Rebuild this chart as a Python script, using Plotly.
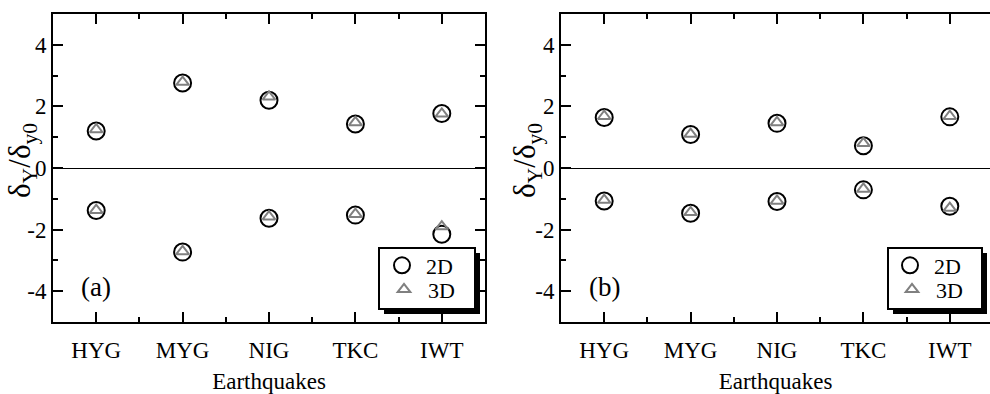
import plotly.graph_objects as go

# Earthquake records along the x axis
CATEGORIES = ["HYG", "MYG", "NIG", "TKC", "IWT"]

# Panel (a): peak normalized displacement, positive / negative excursions
A_2D_POS = [1.20, 2.76, 2.20, 1.43, 1.77]
A_2D_NEG = [-1.38, -2.73, -1.63, -1.53, -2.15]
A_3D_POS = [1.25, 2.79, 2.31, 1.48, 1.76]
A_3D_NEG = [-1.37, -2.71, -1.58, -1.50, -1.90]

# Panel (b)
B_2D_POS = [1.64, 1.09, 1.45, 0.72, 1.66]
B_2D_NEG = [-1.07, -1.47, -1.09, -0.71, -1.24]
B_3D_POS = [1.68, 1.10, 1.48, 0.80, 1.68]
B_3D_NEG = [-1.04, -1.44, -1.07, -0.68, -1.30]

Y_TICK_VALUES = [-4, -2, 0, 2, 4]
Y_TICK_LABELS = ["-4", "-2", "0", "2", "4"]
Y_MINOR_VALUES = [-3, -1, 1, 3]

W, H = 990, 394
FONT = "Liberation Serif"


def px_x(v):
    return v / W


def px_y(v):
    return 1 - v / H


xpos = list(range(len(CATEGORIES)))
x_minor = [i + 0.5 for i in xpos[:-1]]

fig = go.Figure()


def add_panel(pos2d, neg2d, pos3d, neg3d, xa, ya, leg2d, leg3d):
    fig.add_trace(go.Scatter(
        x=xpos + xpos, y=pos2d + neg2d, mode="markers", name="2D",
        xaxis=xa, yaxis=ya, legend=leg2d,
        marker=dict(symbol="circle-open", size=17, color="black",
                    line=dict(width=2, color="black")),
    ))
    fig.add_trace(go.Scatter(
        x=xpos + xpos, y=pos3d + neg3d, mode="markers", name="3D",
        xaxis=xa, yaxis=ya, legend=leg3d,
        marker=dict(symbol="triangle-up-open", size=11, color="#808080",
                    line=dict(width=2, color="#808080")),
    ))


add_panel(A_2D_POS, A_2D_NEG, A_3D_POS, A_3D_NEG, "x", "y", "legend", "legend2")
add_panel(B_2D_POS, B_2D_NEG, B_3D_POS, B_3D_NEG, "x2", "y2", "legend3", "legend4")

tickfont = dict(family=FONT, size=23, color="black")
minor_y = dict(tickvals=Y_MINOR_VALUES, ticks="inside", ticklen=5,
               tickwidth=2, tickcolor="black")
minor_x = dict(tickvals=x_minor, ticks="inside", ticklen=5,
               tickwidth=2, tickcolor="black")

common_x = dict(
    tickvals=xpos, ticktext=CATEGORIES, ticks="inside", ticklen=10,
    tickwidth=2, tickcolor="black", showline=True, linewidth=2,
    linecolor="black", showgrid=False, zeroline=False, tickfont=tickfont,
    minor=minor_x, ticklabelstandoff=6,
    title=dict(text="Earthquakes", font=dict(family=FONT, size=23, color="black"),
               standoff=12),
)
common_y = dict(
    range=[-5, 5], tickvals=Y_TICK_VALUES, ticktext=Y_TICK_LABELS,
    ticks="inside", ticklen=10, tickwidth=2, tickcolor="black",
    showline=True, linewidth=2, linecolor="black", showgrid=False,
    zeroline=True, zerolinecolor="black", zerolinewidth=1,
    tickfont=tickfont, minor=minor_y, ticklabelstandoff=0,
)

# panel (a) spans px 53..485, panel (b) starts at 561 and runs past the right edge
left_a, right_a = 53, 485
left_b = 561
width_px = right_a - left_a
top, bottom = 14, 322
b_end = -0.5 + len(CATEGORIES) * (W - left_b) / width_px

legend_font = dict(family=FONT, size=22, color="black")


def legend_at(x_px, y_px):
    return dict(x=px_x(x_px), y=px_y(y_px), xanchor="left", yanchor="middle",
                bgcolor="rgba(0,0,0,0)", borderwidth=0, font=legend_font,
                tracegroupgap=0, itemwidth=38)


fig.update_layout(
    width=W, height=H, margin=dict(l=0, r=0, t=0, b=0),
    paper_bgcolor="white", plot_bgcolor="white",
    font=dict(family=FONT, color="black"),
    xaxis=dict(domain=[px_x(left_a), px_x(right_a)], range=[-0.5, len(CATEGORIES) - 0.5],
               anchor="y", mirror="ticks", **common_x),
    yaxis=dict(domain=[px_y(bottom), px_y(top)], anchor="x", mirror="ticks", **common_y),
    xaxis2=dict(domain=[px_x(left_b), 1.0], range=[-0.5, b_end],
                anchor="y2", mirror="ticks", **common_x),
    yaxis2=dict(domain=[px_y(bottom), px_y(top)], anchor="x2", mirror=False, **common_y),
    yaxis3=dict(overlaying="y2", side="right", anchor="x2", range=[-5, 5],
                tickvals=Y_TICK_VALUES, ticks="inside", ticklen=10, tickwidth=2,
                tickcolor="black", showline=False, showgrid=False, zeroline=False,
                showticklabels=False, minor=minor_y),
    legend=legend_at(378, 265.5),
    legend2=legend_at(380, 289.5),
    legend3=legend_at(886, 265.5),
    legend4=legend_at(888, 289.5),
    showlegend=True,
)

# legend boxes with drop shadows
for x0, x1 in [(379, 475), (888, 982)]:
    y0, y1 = 248, 309
    fig.add_shape(type="rect", xref="paper", yref="paper",
                  x0=px_x(x0 + 5), x1=px_x(x1 + 5), y0=px_y(y1 + 5), y1=px_y(y0 + 5),
                  fillcolor="black", line=dict(width=0), layer="above")
    fig.add_shape(type="rect", xref="paper", yref="paper",
                  x0=px_x(x0), x1=px_x(x1), y0=px_y(y1), y1=px_y(y0),
                  fillcolor="white", line=dict(width=2, color="black"), layer="above")

# panel labels and y-axis titles
for label, xa, ya in [("(a)", "x", "y"), ("(b)", "x2", "y2")]:
    fig.add_annotation(text=label, x=0, y=-3.85, xref=xa, yref=ya, showarrow=False,
                       font=dict(family=FONT, size=27, color="black"))

for xc in [22, 527]:
    fig.add_annotation(text="δ<sub>Y</sub>/δ<sub>y0</sub>", x=px_x(xc), y=px_y(161),
                       xref="paper", yref="paper", showarrow=False, textangle=-90,
                       xanchor="center", yanchor="middle",
                       font=dict(family=FONT, size=31, color="black"))

fig.write_html("out.html")
